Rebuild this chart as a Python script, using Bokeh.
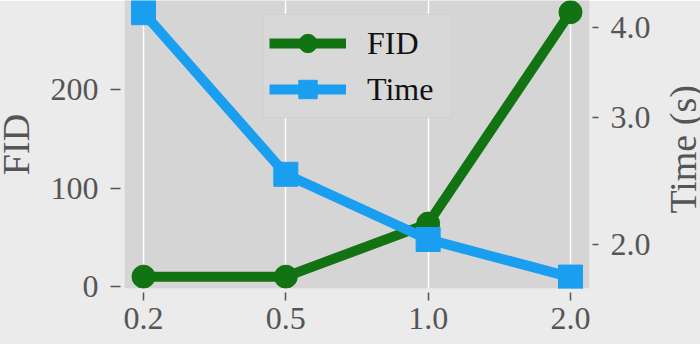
import math
from bokeh.plotting import figure
from bokeh.models import (Range1d, LogScale, LogAxis, LinearAxis, FixedTicker, NumeralTickFormatter,
                          CustomJSTickFormatter, Legend, LegendItem)
from bokeh.embed import file_html
from bokeh.resources import INLINE

# ---- data ----
categories = ["0.2", "0.5", "1.0", "2.0"]
fid = [10, 10, 64, 279]
time_s = [4.19, 2.50, 2.03, 1.80]
fid_ticks = [0, 100, 200]
time_ticks = [2.0, 3.0, 4.0]
y_left_title = "FID"
y_right_title = "Time (s)"

GREEN = "#127312"
BLUE = "#1a9ef0"
GRAY = "#555555"
FONT = "Liberation Serif"
SHIFT_L = 20   # canvas pushed off the left edge of the window
EXTRA_R = 39   # canvas beyond the right edge of the window

xpos = list(range(len(categories)))

p = figure(width=700 + SHIFT_L + EXTRA_R, height=344, output_backend="svg", toolbar_location=None,
           x_range=Range1d(-0.1335, 3.1335), y_range=Range1d(-2.03, 290.9),
           extra_y_ranges={"time": Range1d(1.7354, 4.357), "frac": Range1d(0, 1)},
           extra_y_scales={"time": LogScale()},
           min_border_left=124 + SHIFT_L, min_border_right=111 + EXTRA_R,
           min_border_top=0, min_border_bottom=56)
p.margin = (0, 0, 0, -SHIFT_L)

p.background_fill_color = "#d5d5d5"
p.border_fill_color = "#ebebeb"
p.outline_line_color = None


def style_axis(ax, tin, tout, standoff):
    ax.axis_line_color = None
    ax.major_tick_in = tin
    ax.major_tick_out = tout
    ax.minor_tick_line_color = None
    ax.major_tick_line_color = GRAY
    ax.major_tick_line_width = 1.5
    ax.major_label_text_font = FONT
    ax.major_label_text_font_size = "32px"
    ax.major_label_text_color = GRAY
    ax.major_label_standoff = standoff


# x axis
xa = p.xaxis[0]
xa.ticker = FixedTicker(ticks=xpos)
xa.major_label_overrides = {i: c for i, c in zip(xpos, categories)}
style_axis(xa, -4, 12, 7)

# left axis
ya = p.yaxis[0]
ya.ticker = FixedTicker(ticks=fid_ticks)
style_axis(ya, -4, 14, 12)
ya.axis_label = y_left_title
ya.axis_label_text_font = FONT
ya.axis_label_text_font_size = "38px"
ya.axis_label_text_font_style = "normal"
ya.axis_label_text_color = GRAY
ya.axis_label_standoff = 11

# right axis (log)
ra = LogAxis(y_range_name="time", ticker=FixedTicker(ticks=time_ticks),
             formatter=NumeralTickFormatter(format="0.0"))
style_axis(ra, -3, 9, 12)
p.add_layout(ra, "right")

# right axis title, reading bottom-to-top (label starts at its tick and runs upward)
ta = LinearAxis(y_range_name="frac", ticker=FixedTicker(ticks=[0.26]),
                formatter=CustomJSTickFormatter(args=dict(t=y_right_title), code="return t"))
style_axis(ta, 0, 0, 30)
ta.major_tick_line_color = None
ta.major_label_text_font_size = "38px"
ta.major_label_orientation = math.pi / 2
p.add_layout(ta, "right")

# grid
p.xgrid.ticker = FixedTicker(ticks=xpos)
p.xgrid.grid_line_color = "white"
p.xgrid.grid_line_width = 1.5
p.ygrid.grid_line_color = None

# glyphs
fl = p.line(xpos, fid, line_color=GREEN, line_width=10)
fm = p.scatter(xpos, fid, marker="circle", size=23, color=GREEN)
tl = p.line(xpos, time_s, y_range_name="time", line_color=BLUE, line_width=10)
tm = p.scatter(xpos, time_s, y_range_name="time", marker="square", size=24, color=BLUE)

legend = Legend(items=[LegendItem(label="FID", renderers=[fl, fm]),
                       LegendItem(label="Time", renderers=[tl, tm])],
                location=(139, 170), glyph_width=77, glyph_height=46, label_height=46,
                label_width=79, spacing=0, padding=5, margin=0, label_standoff=21,
                label_text_font=FONT, label_text_font_size="32px", label_text_color="#111111",
                background_fill_color="#d8d8d8", background_fill_alpha=1.0,
                border_line_color="#c8c8c8", border_line_width=1)
p.add_layout(legend)

open("out.html", "w").write(file_html(p, INLINE))
